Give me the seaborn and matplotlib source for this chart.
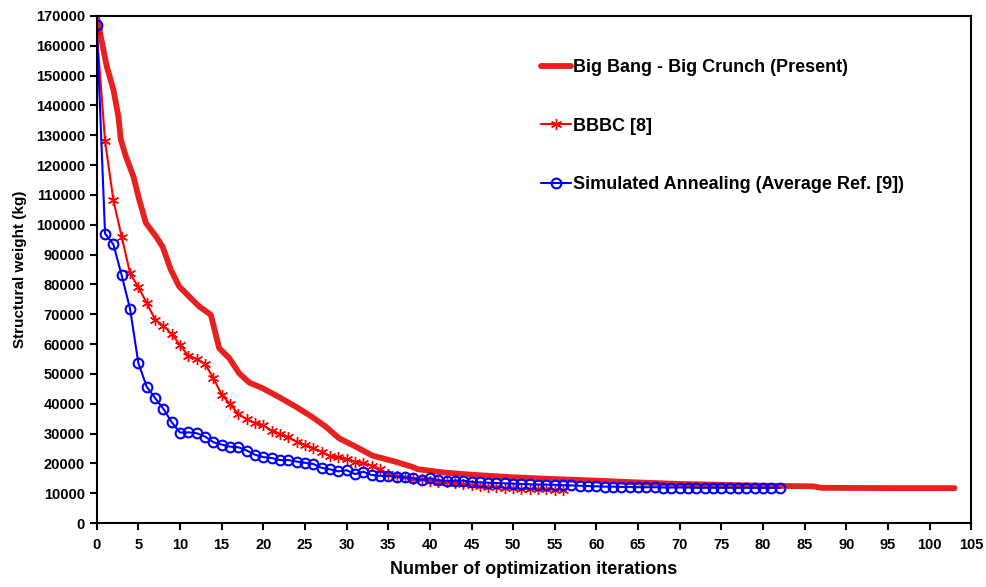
import numpy as np
import pandas as pd
import seaborn as sns
import matplotlib.pyplot as plt

sns.set_theme(style="white")
plt.rcParams['font.family'] = ['Liberation Sans', 'DejaVu Sans']
plt.rcParams['font.weight'] = 'bold'
plt.rcParams['text.color'] = 'black'
plt.rcParams['axes.labelcolor'] = 'black'

# Big Bang - Big Crunch (Present): points
bbbc_x = [0, 0.4, 1.2, 2, 2.6, 2.9, 3.5, 4.4, 5.1, 5.9, 7.1, 7.9, 8.9, 9.9, 11.1, 12.3, 13.7,
          14.7, 15.9, 17.1, 18.3, 19.9, 21.9, 23.9, 25.9, 27.5, 29.1, 31.1, 33.1, 35.8, 37.8,
          38.6, 41.8, 45.4, 50.2, 54.2, 60, 65, 70, 75, 80, 86, 87, 95, 103]
bbbc_y = [170000, 164300, 153100, 145300, 136300, 128400, 122900, 116200, 108400, 100600,
          96100, 92700, 84900, 79300, 75900, 72600, 69800, 58600, 55300, 50200, 47100,
          45200, 42200, 39000, 35500, 32300, 28400, 25600, 22600, 20600, 18900, 18000,
          16900, 16100, 15300, 14800, 14200, 13600, 13100, 12800, 12500, 12300, 11800,
          11700, 11700]

# BBBC [8]: one value per iteration 0..56
bbbc8_y = [165000, 128000, 108200, 95900, 83800, 79000, 73800, 68200, 66100, 63400,
           59700, 56000, 55000, 53400, 48600, 43000, 39900, 36600, 34800, 33500,
           32700, 31000, 29900, 28800, 27300, 26200, 25100, 23900, 22500, 22000,
           21400, 20600, 20000, 19200, 18000, 16500, 15800, 15300, 14900, 14600,
           14200, 13900, 13600, 13300, 13000, 12700, 12400, 12200, 12000, 11800,
           11600, 11500, 11400, 11300, 11300, 11200, 11200]

# Simulated Annealing (Average Ref. [9]): one value per iteration 0..82
sa_y = [167000, 97000, 93400, 83000, 71800, 53600, 45700, 41900, 38300, 33800,
        30300, 30400, 30100, 29000, 27100, 26300, 25600, 25400, 24300, 22900,
        22100, 21800, 21100, 21100, 20600, 20200, 19800, 18500, 18000, 17300,
        17700, 16400, 17200, 16100, 15800, 15800, 15500, 15300, 15000, 14400,
        15000, 14400, 14100, 14200, 14200, 13800, 13600, 13500, 13400, 13300,
        13200, 13100, 13000, 12900, 12900, 12800, 12700, 12600, 12500, 12400,
        12300, 12200, 12200, 12100, 12100, 12000, 12000, 12000, 11900, 11900,
        11900, 11900, 11800, 11800, 11800, 11800, 11800, 11800, 11800, 11800,
        11800, 11800, 11800]

fig, ax = plt.subplots(figsize=(9.87, 5.87), dpi=100)
fig.subplots_adjust(left=0.098, right=0.984, bottom=0.109, top=0.973)

sns.lineplot(x=bbbc_x, y=bbbc_y, ax=ax, color='#E8201E', lw=4.2,
             label='Big Bang - Big Crunch (Present)', sort=False)
sns.lineplot(x=np.arange(len(bbbc8_y)), y=bbbc8_y, ax=ax, color='#FF0000', lw=1.5,
             marker=(6, 2, 0), markersize=8, markeredgewidth=1.0, markeredgecolor='#FF0000',
             label='BBBC [8]')
sns.lineplot(x=np.arange(len(sa_y)), y=sa_y, ax=ax, color='#0000FF', lw=1.5,
             marker='o', markersize=7, markerfacecolor='none', markeredgewidth=1.5,
             markeredgecolor='#0000FF', label='Simulated Annealing (Average Ref. [9])')

ax.set_xlim(0, 104.5)
ax.set_ylim(0, 170000)
ax.set_xticks(np.arange(0, 106, 5))
ax.set_yticks(np.arange(0, 170001, 10000))
ax.tick_params(axis='both', direction='out', length=5, width=1.5, colors='black',
               labelsize=10.5, bottom=True, left=True)
ax.tick_params(axis='x', pad=6)
for lab in ax.get_xticklabels() + ax.get_yticklabels():
    lab.set_fontweight('bold')
for s in ax.spines.values():
    s.set_color('black')
    s.set_linewidth(1.5)

ax.set_xlabel('Number of optimization iterations', fontsize=13, fontweight='bold', labelpad=6)
ax.set_ylabel('Structural weight (kg)', fontsize=11, fontweight='bold', labelpad=6)

leg = ax.legend(loc='upper left', bbox_to_anchor=(0.49, 0.947), frameon=False,
                fontsize=13, labelspacing=2.3, handlelength=1.65, handletextpad=0.1)
for t in leg.get_texts():
    t.set_fontweight('bold')

fig.savefig('out.png', dpi=100)
